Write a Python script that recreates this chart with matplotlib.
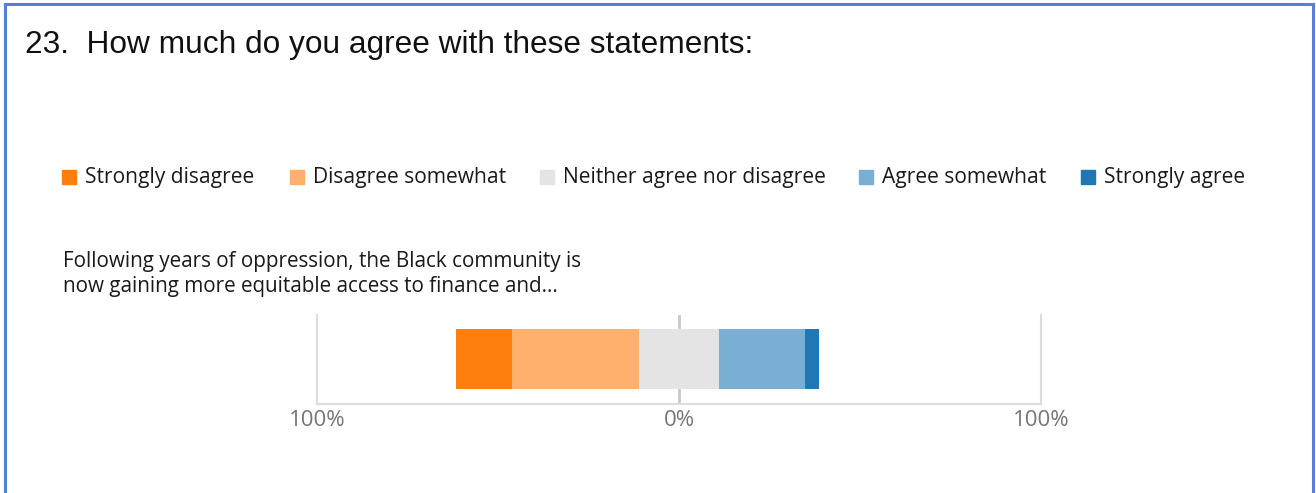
import matplotlib
matplotlib.use("Agg")
import matplotlib.pyplot as plt
from matplotlib.patches import Rectangle
from matplotlib.lines import Line2D

# survey answers, share of respondents in percent
categories = ["Strongly disagree", "Disagree somewhat", "Neither agree nor disagree",
              "Agree somewhat", "Strongly agree"]
shares = [15.4, 35.0, 22.2, 23.6, 4.0]
colors = ["#ff7f0e", "#ffb06c", "#e4e4e4", "#7aaed3", "#1f77b4"]
question = "Following years of oppression, the Black community is\nnow gaining more equitable access to finance and..."
title = "23.  How much do you agree with these statements:"
tick_pos = [-100, 0, 100]
tick_labels = ["100%", "0%", "100%"]

W, H = 1316, 493
fig = plt.figure(figsize=(W / 100, H / 100), dpi=100)
fig.patch.set_facecolor("white")

def px(x, y):
    # pixel coords (from top-left) -> figure fraction
    return x / W, 1 - y / H

# blue frame round the card (no bottom edge)
border = "#5580d4"
for xs, ys in [([4.5, 4.5], [H, 4]), ([4.5, 1312.5], [4, 4]), ([1312.5, 1312.5], [4, H])]:
    fig.add_artist(Line2D([x / W for x in xs], [1 - y / H for y in ys],
                          color=border, lw=2.2, transform=fig.transFigure))

fig.text(*px(25, 45), title, fontsize=22.8, family="Liberation Sans",
         va="center", ha="left", color="#111111")

# legend row
leg_x = [62, 290, 540, 859, 1081]
for x, lab, c in zip(leg_x, categories, colors):
    x0, y0 = px(x, 184)
    fig.add_artist(Rectangle((x0, y0), 14 / W, 14 / H, color=c, transform=fig.transFigure))
    fig.text(*px(x + 23, 177), lab, fontsize=15.1, family="Open Sans",
             va="center", ha="left", color="#1a1a1a")

fig.text(*px(63, 274), question, fontsize=14.9, family="Open Sans",
         va="center", ha="left", color="#1a1a1a", linespacing=1.3)

# diverging bar, neutral split around zero
ax = fig.add_axes([317 / W, 89 / H, 724 / W, 89 / H])
left = -(shares[0] + shares[1] + shares[2] / 2)
for s, c in zip(shares, colors):
    ax.barh(0.5056, s, left=left, height=0.674, color=c, zorder=2)
    left += s

# zero marker, only the stubs above and below the bar show
ax.axvline(0, ymin=0.035, ymax=0.155, color="#c8c8c8", lw=2, zorder=1)
ax.axvline(0, ymin=0.865, ymax=1.0, color="#c8c8c8", lw=2, zorder=1)
ax.set_xlim(-100, 100)
ax.set_ylim(0, 1)
ax.set_yticks([])
ax.set_xticks(tick_pos)
ax.set_xticklabels(tick_labels, fontsize=16, color="#767676", family="Open Sans")
ax.tick_params(axis="x", length=0, pad=4.5)
for side in ["left", "right", "bottom"]:
    ax.spines[side].set_color("#dcdcdc")
    ax.spines[side].set_linewidth(1.5)
ax.spines["top"].set_visible(False)

fig.savefig("out.png", dpi=100)
